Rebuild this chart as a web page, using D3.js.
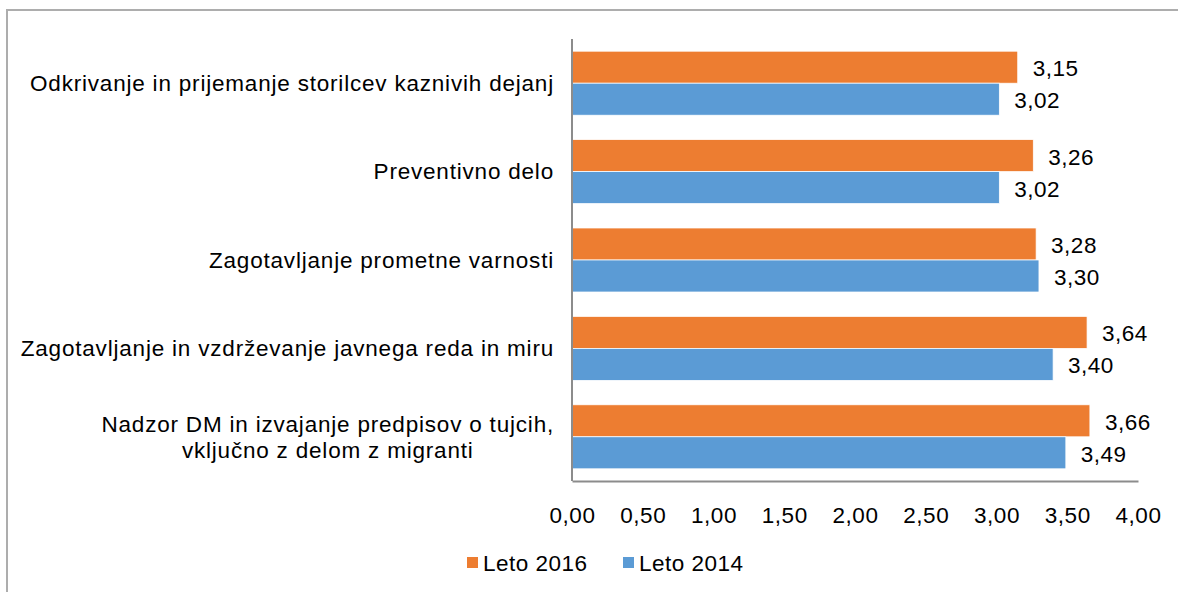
<!DOCTYPE html>
<html>
<head>
<meta charset="utf-8">
<script src="https://d3js.org/d3.v7.min.js"></script>
<style>
  body { margin: 0; background: #fff; }
  text { font-family: "Liberation Sans", Arial, sans-serif; fill: #000; letter-spacing: 0.5px; }
  .cat { letter-spacing: 0.8px; }
</style>
</head>
<body>
<div id="chart"></div>
<script>
// Data ------------------------------------------------------------------------
const categories = [
  ['Odkrivanje in prijemanje storilcev kaznivih dejanj'],
  ['Preventivno delo'],
  ['Zagotavljanje prometne varnosti'],
  ['Zagotavljanje in vzdrževanje javnega reda in miru'],
  ['Nadzor DM in izvajanje predpisov o tujcih,', 'vključno z delom z migranti']
];
const series_names = ['Leto 2016', 'Leto 2014'];
const values_2016 = [3.15, 3.26, 3.28, 3.64, 3.66];
const values_2014 = [3.02, 3.02, 3.30, 3.40, 3.49];
const x_ticks = [0, 0.5, 1, 1.5, 2, 2.5, 3, 3.5, 4];
const series_colors = ['#ED7D31', '#5B9BD5'];

// Setup -----------------------------------------------------------------------
const width = 1178, height = 592;
const svg = d3.select('#chart')
  .append('svg')
    .attr('width', width)
    .attr('height', height);

// outer frame
svg.append('rect')
  .attr('x', 7).attr('y', 10)
  .attr('width', width + 10).attr('height', height + 10)
  .attr('fill', 'none')
  .attr('stroke', '#adadad')
  .attr('stroke-width', 2);

const plot = { left: 572, right: 1138, top: 39, bottom: 481 };
const font_size = '22.5px';
const sl = d3.formatLocale({ decimal: ',', thousands: '.', grouping: [3], currency: ['', ''] });
const fmt = sl.format('.2f');

const x = d3.scaleLinear().domain([0, 4]).range([plot.left, plot.right]);
const y = d3.scaleBand()
  .domain(d3.range(categories.length))
  .range([plot.top, plot.bottom])
  .paddingInner(0.276)
  .paddingOuter(0.138);
const y_sub = d3.scaleBand()
  .domain(series_names)
  .range([0, y.bandwidth()]);

const rows = categories.map((c, i) => ({
  i: i,
  label: c,
  vals: [
    { name: series_names[0], v: values_2016[i] },
    { name: series_names[1], v: values_2014[i] }
  ]
}));
const col = d3.scaleOrdinal(series_colors).domain(series_names);

// Bars ------------------------------------------------------------------------
const groups = svg.append('g')
  .selectAll('g')
  .data(rows)
  .join('g')
    .attr('transform', d => `translate(0,${y(d.i)})`);

groups.selectAll('rect')
  .data(d => d.vals)
  .join('rect')
    .attr('x', x(0))
    .attr('y', d => y_sub(d.name))
    .attr('width', d => x(d.v) - x(0))
    .attr('height', y_sub.bandwidth())
    .attr('fill', d => col(d.name))
    .attr('stroke', '#fff')
    .attr('stroke-width', 0.75);

groups.selectAll('text.val')
  .data(d => d.vals)
  .join('text')
    .attr('class', 'val')
    .attr('x', d => x(d.v) + 15)
    .attr('y', d => y_sub(d.name) + y_sub.bandwidth() / 2)
    .attr('dy', '0.4em')
    .style('font-size', font_size)
    .text(d => fmt(d.v));

// Axes ------------------------------------------------------------------------
const x_axis = svg.append('g')
  .attr('transform', `translate(0,${plot.bottom})`)
  .call(d3.axisBottom(x).tickValues(x_ticks).tickSize(0).tickPadding(26).tickFormat(fmt));
x_axis.select('.domain').attr('stroke', '#8c8c8c').attr('stroke-width', 2);
x_axis.selectAll('text')
  .style('font-size', font_size)
  .style('font-family', '"Liberation Sans", Arial, sans-serif');

svg.append('line')
  .attr('x1', x(0)).attr('x2', x(0))
  .attr('y1', plot.top).attr('y2', plot.bottom)
  .attr('stroke', '#8c8c8c')
  .attr('stroke-width', 2);

// Category labels (multi-line ones are centred on their longest line)
const cat_label = svg.append('g')
  .selectAll('text')
  .data(rows)
  .join('text')
    .attr('class', 'cat')
    .style('font-size', font_size);
cat_label.each(function(d) {
  const t = d3.select(this);
  const cy = y(d.i) + y.bandwidth() / 2;
  const line_h = 26;
  const n = d.label.length;
  d.label.forEach((s, k) => {
    t.append('tspan').text(s)
      .attr('y', cy + (k - (n - 1) / 2) * line_h)
      .attr('dy', '0.35em');
  });
  if (n == 1) {
    t.attr('text-anchor', 'end').selectAll('tspan').attr('x', 554);
  } else {
    const w = d3.max(t.selectAll('tspan').nodes(), nd => nd.getComputedTextLength());
    t.attr('text-anchor', 'middle').selectAll('tspan').attr('x', 554 - w / 2);
  }
});

// Legend ----------------------------------------------------------------------
const legend_x = [467, 623];
const legend = svg.append('g')
  .selectAll('g')
  .data(series_names)
  .join('g')
    .attr('transform', (d, i) => `translate(${legend_x[i]},557)`);
legend.append('rect')
  .attr('width', 11).attr('height', 11)
  .attr('fill', d => col(d));
legend.append('text')
  .attr('x', 16).attr('y', 5.5).attr('dy', '0.36em')
  .style('font-size', font_size)
  .text(d => d);
</script>
</body>
</html>
